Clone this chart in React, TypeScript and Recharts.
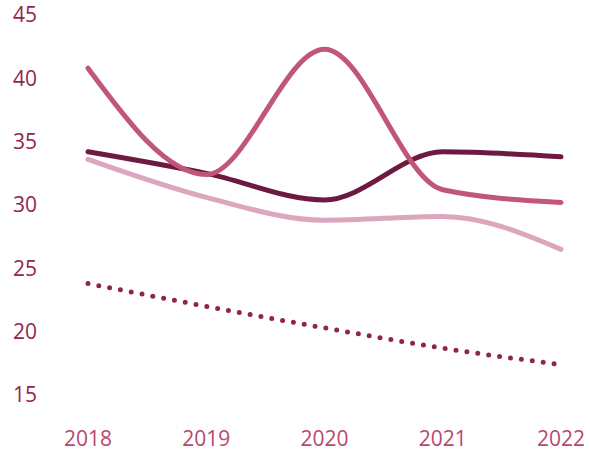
import { LineChart, Line, XAxis, YAxis } from "recharts";

const years = ["2018", "2019", "2020", "2021", "2022"];
const darkSeries = [34.2, 32.5, 30.4, 34.2, 33.8];
const pinkSeries = [40.8, 32.4, 42.3, 31.2, 30.2];
const lightSeries = [33.6, 30.6, 28.8, 29.1, 26.5];
const dottedSeries = [23.8, 22.0, 20.3, 18.7, 17.4];
const yTicks = [15, 20, 25, 30, 35, 40, 45];

const data = years.map((year, i) => ({
  year,
  dark: darkSeries[i],
  pink: pinkSeries[i],
  light: lightSeries[i],
  dotted: dottedSeries[i],
}));

const FONT = "'Open Sans', sans-serif";

export default function App() {
  return (
    <div style={{ position: "absolute", left: 0, top: 0, background: "#fff" }}>
      <LineChart
        width={590}
        height={455}
        data={data}
        margin={{ top: 15, right: 10, bottom: 0, left: 0 }}
      >
        <XAxis
          dataKey="year"
          axisLine={false}
          tickLine={false}
          height={60}
          tickMargin={30}
          padding={{ left: 43, right: 19 }}
          tick={{ fill: "#b9476f", fontSize: 21, fontFamily: FONT }}
        />
        <YAxis
          domain={[15, 45]}
          ticks={yTicks}
          width={45}
          axisLine={false}
          tickLine={false}
          tick={{ fill: "#922650", fontSize: 21, fontFamily: FONT }}
        />
        <Line
          type="monotone"
          dataKey="dotted"
          stroke="#8e2550"
          strokeWidth={5}
          strokeDasharray="0 11"
          strokeLinecap="round"
          dot={false}
          isAnimationActive={false}
        />
        <Line
          type="monotone"
          dataKey="light"
          stroke="#dca6be"
          strokeWidth={5}
          strokeLinecap="round"
          dot={false}
          isAnimationActive={false}
        />
        <Line
          type="monotone"
          dataKey="dark"
          stroke="#6d1a40"
          strokeWidth={5}
          strokeLinecap="round"
          dot={false}
          isAnimationActive={false}
        />
        <Line
          type="monotone"
          dataKey="pink"
          stroke="#c05678"
          strokeWidth={5}
          strokeLinecap="round"
          dot={false}
          isAnimationActive={false}
        />
      </LineChart>
    </div>
  );
}
